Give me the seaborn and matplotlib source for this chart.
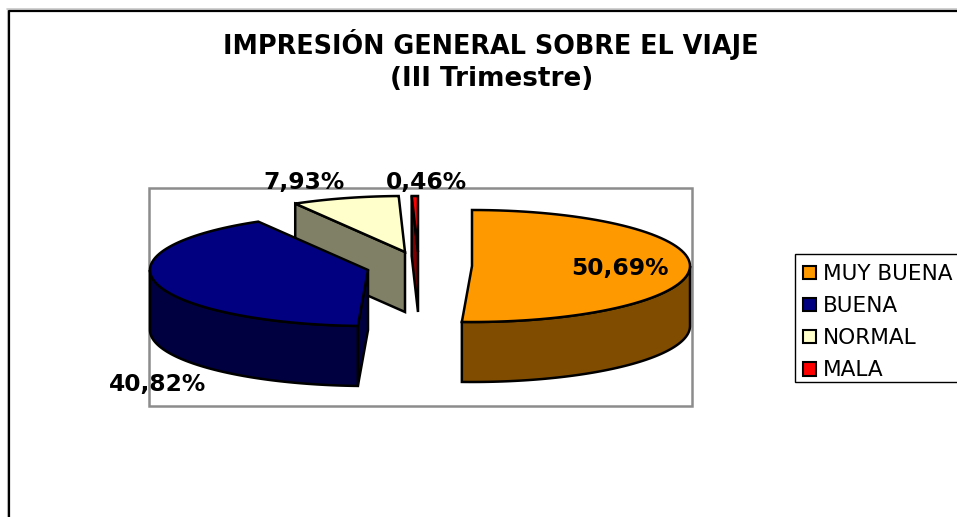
import numpy as np
import pandas as pd
import matplotlib
matplotlib.use("Agg")
import matplotlib.pyplot as plt
import seaborn as sns
from matplotlib.patches import Patch, Polygon, Rectangle

categories = ["MUY BUENA", "BUENA", "NORMAL", "MALA"]
percent = [50.69, 40.82, 7.93, 0.46]
top_colors = ["#ff9900", "#000080", "#ffffcc", "#ff0000"]
wall_colors = ["#804d00", "#000040", "#808066", "#800000"]

# pixel position of each exploded slice
centers_x = [472, 368, 405, 418]
centers_y = [266, 270, 252, 252]
RX, RY, DEPTH = 218, 56, 60

sns.set_theme(style="white")
plt.rcParams["font.family"] = ["DejaVu Sans"]

df = pd.DataFrame({"cat": categories, "pct": percent, "top": top_colors,
                   "wall": wall_colors, "cx": centers_x, "cy": centers_y})
df["end"] = df["pct"].cumsum() / df["pct"].sum() * 360
df["start"] = df["end"].shift(1).fillna(0)

fig = plt.figure(figsize=(9.57, 5.17), dpi=100)
ax = fig.add_axes([0, 0, 1, 1])
ax.set_xlim(0, 957)
ax.set_ylim(517, 0)
ax.axis("off")


def arc(row, a, b):
    t = np.radians(np.linspace(a, b, 80))
    return np.column_stack([row.cx + RX * np.sin(t), row.cy - RY * np.cos(t)])


def draw_slice(row):
    # radial side wall, visible for the slices left of the front
    if row.start > 180:
        p = arc(row, row.start, row.start)[0]
        c = np.array([row.cx, row.cy])
        d = np.array([0, DEPTH])
        ax.add_patch(Polygon([p, c, c + d, p + d], fc=row.wall, ec="black", lw=1.8, zorder=3))
    # outer wall, only the front half shows
    a, b = max(row.start, 90), min(row.end, 270)
    if a < b:
        edge = arc(row, a, b)
        wall = np.vstack([edge, (edge + [0, DEPTH])[::-1]])
        ax.add_patch(Polygon(wall, fc=row.wall, ec="black", lw=1.8, zorder=3))
    top = np.vstack([[row.cx, row.cy], arc(row, row.start, row.end)])
    ax.add_patch(Polygon(top, fc=row.top, ec="black", lw=1.8, zorder=3))


# outer chart border
ax.plot([8, 8], [517, 10], color="#c8c8c8", lw=1.5, zorder=1)
ax.plot([7, 957], [9, 9], color="#c8c8c8", lw=1.2, zorder=1)
ax.plot([9, 9, 957], [517, 11, 11], color="black", lw=1.6, zorder=2)

# plot area frame
ax.add_patch(Rectangle((148.5, 188), 543.5, 218, fc="white", ec="#8c8c8c", lw=1.8, zorder=1))

for i in [2, 3, 1, 0]:
    draw_slice(df.iloc[i])

ax.text(491, 44, "IMPRESIÓN GENERAL SOBRE EL VIAJE", ha="center", va="center",
        fontsize=18.4, fontweight="bold", color="black", zorder=5)
ax.text(492, 79, "(III Trimestre)", ha="center", va="center",
        fontsize=18.9, fontweight="bold", color="black", zorder=5)

label_x = [620, 158, 304, 426]
label_y = [269, 384, 182, 183]
for v, x, y in zip(percent, label_x, label_y):
    ax.text(x, y, f"{v:.2f}%".replace(".", ","), ha="center", va="center",
            fontsize=16.8, fontweight="bold", color="black", zorder=5)

# legend box runs past the right edge of the picture
ax.add_patch(Rectangle((795, 254), 175, 128, fc="white", ec="black", lw=1.0, zorder=4))
handles = [Patch(fc=c, ec="black", lw=1.5) for c in top_colors]
leg = ax.legend(handles, categories, loc="upper left", bbox_to_anchor=(794, 255),
                bbox_transform=ax.transData, fontsize=15.6, frameon=False,
                borderaxespad=0, borderpad=0.42,
                handlelength=0.58, handleheight=0.58, handletextpad=0.33, labelspacing=0.56,
                labelcolor="black")
leg.set_zorder(5)

fig.savefig("out.png", dpi=100)
